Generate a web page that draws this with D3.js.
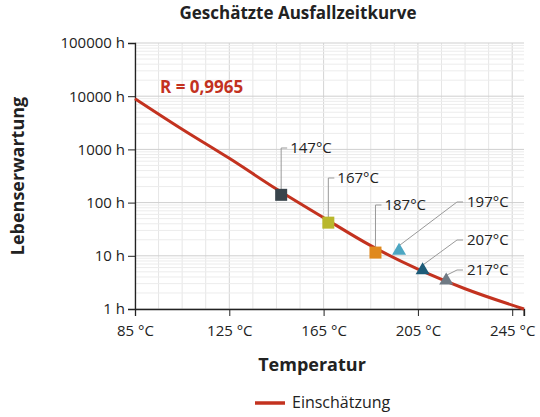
<!DOCTYPE html>
<html><head><meta charset="utf-8">
<script src="https://cdn.jsdelivr.net/npm/d3@7"></script>
<style>body{margin:0;background:#fff}text{font-family:"Open Sans",sans-serif}</style>
</head><body><svg id="c" width="540" height="417"></svg>
<script>
// curve estimate
var curveTemps = [85, 105, 125, 145, 165, 185, 205, 225, 250];
var curveHours = [9000, 2400, 680, 180, 52, 15.5, 5.6, 2.4, 1];
// measured points
var ptTemps = [147, 167, 187, 197, 207, 217];
var ptHours = [140, 42, 11.5, 13, 5.6, 3.6];
var ptLabels = ["147°C", "167°C", "187°C", "197°C", "207°C", "217°C"];
var ptShapes = ["square", "square", "square", "triangle", "triangle", "triangle"];
var ptColors = ["#39444c", "#b9b72c", "#e0891d", "#4ca6c2", "#1d5b78", "#6f7a84"];
var xTicks = [85, 125, 165, 205, 245];
var yTicks = [1, 10, 100, 1000, 10000, 100000];

var svg = d3.select("#c");
var x = d3.scaleLinear().domain([85, 250]).range([135, 524]);
var y = d3.scaleLog().domain([1, 100000]).range([309, 43]);

// grid
var g = svg.append("g");
d3.range(85, 251, 10).forEach(function (t) {
  g.append("line").attr("x1", x(t)).attr("x2", x(t)).attr("y1", 43).attr("y2", 309)
    .attr("stroke", (t - 85) % 40 == 0 ? "#d4d4d4" : "#e6e6e6");
});
for (var e = 0; e < 5; e++) for (var m = 1; m < 10; m++) {
  var v = m * Math.pow(10, e);
  g.append("line").attr("x1", 135).attr("x2", 524).attr("y1", y(v)).attr("y2", y(v))
    .attr("stroke", m == 1 ? "#cfcfcf" : "#ececec");
}
g.append("line").attr("x1", 135).attr("x2", 524).attr("y1", 43).attr("y2", 43).attr("stroke", "#cfcfcf");

// axes
var xa = svg.append("g").attr("transform", "translate(0,309)")
  .call(d3.axisBottom(x).tickValues(xTicks).tickSize(7).tickFormat(function (d) { return d + " °C"; }));
xa.selectAll("text").attr("font-size", 15).attr("fill", "#222").attr("dy", "1.1em");
xa.append("line").attr("x1", 524).attr("x2", 524).attr("y1", 0).attr("y2", 7).attr("stroke", "#222");
var ya = svg.append("g").attr("transform", "translate(135,0)")
  .call(d3.axisLeft(y).tickValues(yTicks).tickSize(7).tickFormat(function (d) { return d + " h"; }));
ya.selectAll("text").attr("font-size", 15).attr("fill", "#222");
svg.selectAll(".domain").attr("stroke", "#222").attr("stroke-width", 1.3);
svg.selectAll(".tick line").attr("stroke", "#222");

// curve
var line = d3.line().x(function (d, i) { return x(curveTemps[i]); })
  .y(function (d) { return y(d); }).curve(d3.curveMonotoneX);
svg.append("path").attr("d", line(curveHours)).attr("fill", "none")
  .attr("stroke", "#c3321f").attr("stroke-width", 3);

// leader lines and labels
var labelPos = [[280, 148, "v"], [327, 178, "v"], [374, 205, "v"], [463, 202, "d"], [463, 240, "d"], [463, 270, "d"]];
ptTemps.forEach(function (t, i) {
  var px = x(t), py = y(ptHours[i]), lp = labelPos[i];
  var path = lp[2] == "v" ? "M" + px + "," + py + "V" + lp[1] + "H" + (px + 6)
    : "M" + px + "," + (py - 4) + "L" + (lp[0] - 6) + "," + lp[1] + "H" + lp[0];
  svg.append("path").attr("d", path).attr("fill", "none").attr("stroke", "#999").attr("stroke-width", 1);
  svg.append("text").attr("x", lp[2] == "v" ? px + 9 : lp[0] + 4).attr("y", lp[1] + 5)
    .attr("font-size", 15).attr("fill", "#222").text(ptLabels[i]);
});
ptTemps.forEach(function (t, i) {
  var px = x(t), py = y(ptHours[i]);
  if (ptShapes[i] == "square")
    svg.append("rect").attr("x", px - 6).attr("y", py - 6).attr("width", 12).attr("height", 12).attr("fill", ptColors[i]);
  else
    svg.append("path").attr("d", "M" + px + "," + (py - 7) + "L" + (px + 7) + "," + (py + 5) + "L" + (px - 7) + "," + (py + 5) + "Z").attr("fill", ptColors[i]);
});

// texts
svg.append("text").attr("x", 160).attr("y", 93).attr("font-size", 17).attr("font-weight", "bold")
  .attr("fill", "#c3321f").text("R = 0,9965");
svg.append("text").attr("x", 298).attr("y", 19).attr("text-anchor", "middle").attr("font-size", 17)
  .attr("font-weight", "bold").attr("fill", "#222").text("Geschätzte Ausfallzeitkurve");
svg.append("text").attr("x", 312).attr("y", 371).attr("text-anchor", "middle").attr("font-size", 18)
  .attr("font-weight", "bold").attr("fill", "#222").text("Temperatur");
svg.append("text").attr("transform", "translate(24,176) rotate(-90)").attr("text-anchor", "middle")
  .attr("font-size", 18).attr("font-weight", "bold").attr("fill", "#222").text("Lebenserwartung");
svg.append("line").attr("x1", 255).attr("x2", 285).attr("y1", 403).attr("y2", 403)
  .attr("stroke", "#c3321f").attr("stroke-width", 3.5);
svg.append("text").attr("x", 292).attr("y", 408).attr("font-size", 16).attr("fill", "#222").text("Einschätzung");
</script></body></html>
